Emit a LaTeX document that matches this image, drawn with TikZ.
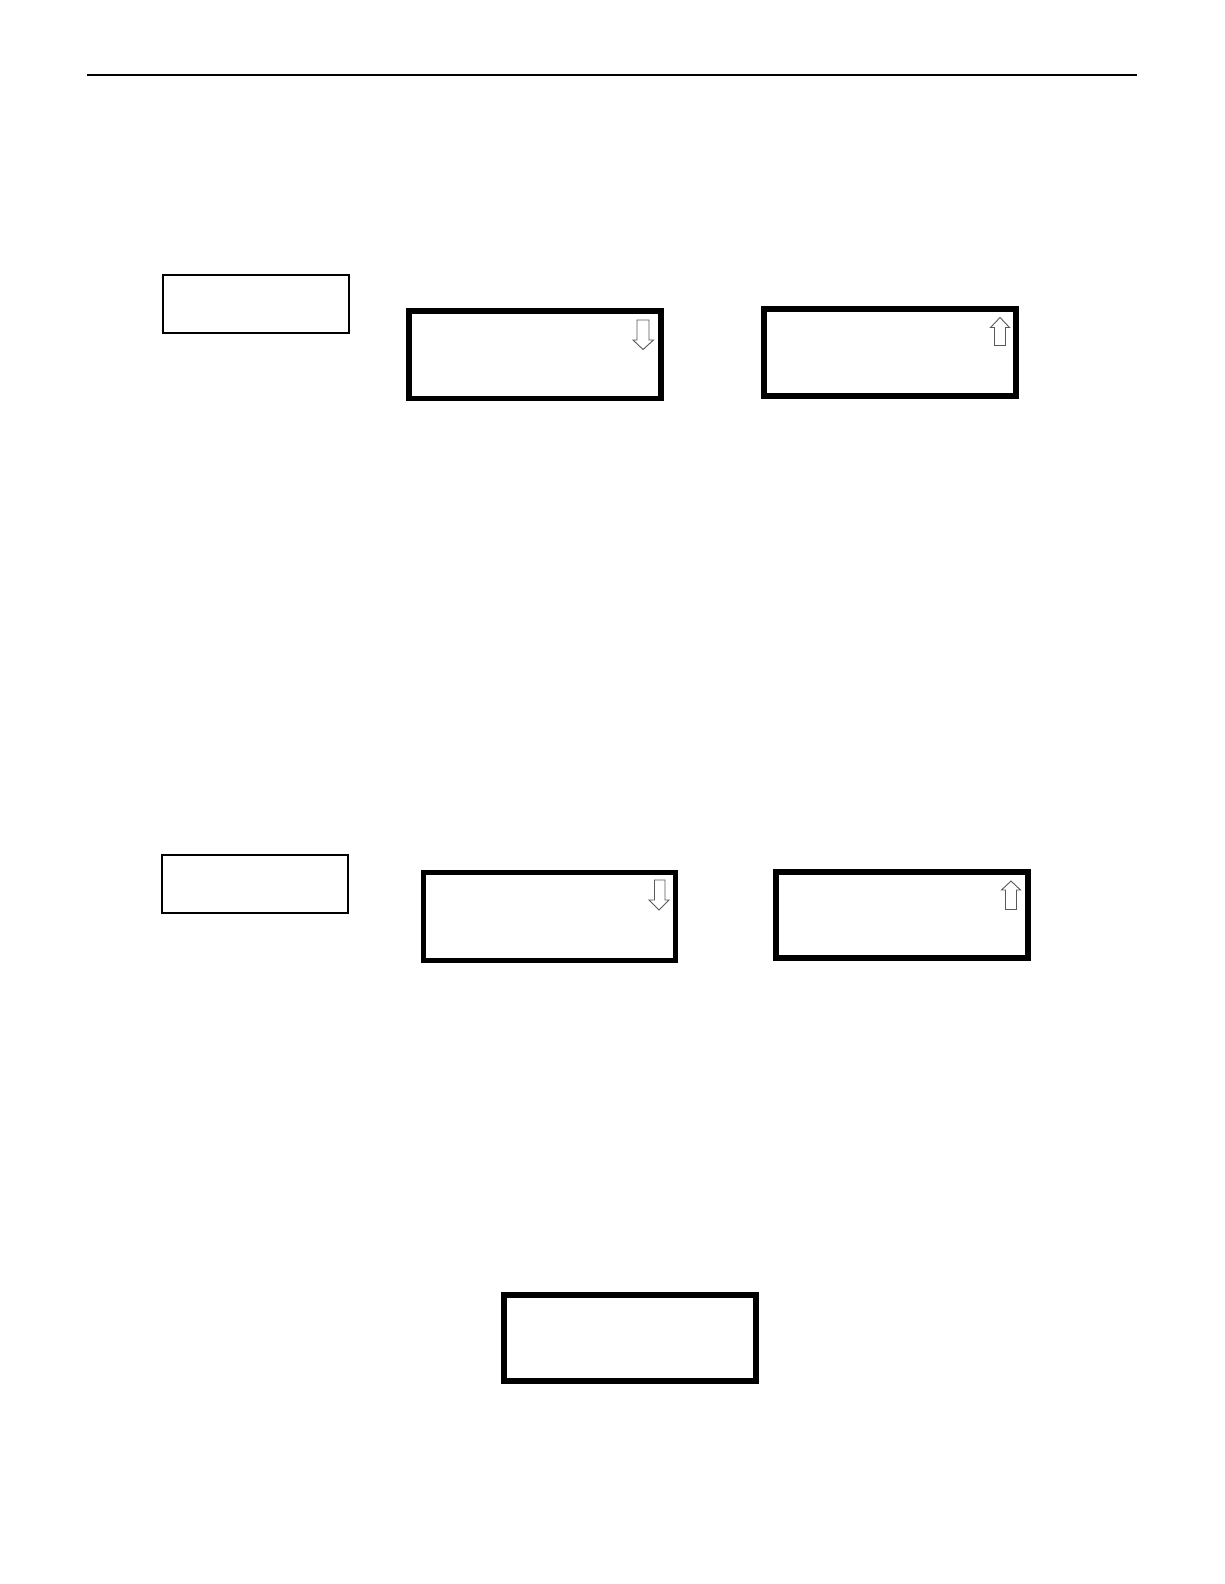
\documentclass[tikz,border=0pt]{standalone}
\begin{document}
\begin{tikzpicture}[x=1pt,y=-1pt,
  thinbox/.style={draw=black,line width=2pt,inner sep=0pt,rectangle},
  thickbox/.style={draw=black,line width=5.8pt,inner sep=0pt,rectangle},
  scrollarrow/.style={draw=black!65,line width=0.9pt,line join=miter,fill=white}]
\useasboundingbox[fill=white] (0,0) rectangle (1224,1584);
% header rule
\coordinate (ruleL) at (87,75);
\coordinate (ruleR) at (1137,75);
\draw[line width=1.5pt] (ruleL) -- (ruleR);
% upper row
\node[thinbox,minimum width=186pt,minimum height=57.5pt] (s1) at (255.5,303.75) {};
\node[thickbox,minimum width=252pt,minimum height=87.5pt] (b1) at (535,354.75) {};
\node[thickbox,minimum width=252pt,minimum height=87pt] (b2) at (890,352.5) {};
% lower row
\node[thinbox,minimum width=186pt,minimum height=58pt] (s2) at (254.5,883.5) {};
\node[thickbox,minimum width=252pt,minimum height=88pt] (b3) at (549.5,916.5) {};
\node[thickbox,minimum width=252pt,minimum height=86pt] (b4) at (902.2,915.2) {};
% bottom
\node[thickbox,minimum width=252pt,minimum height=86pt] (b5) at (630,1338) {};
% scroll arrows
\draw[scrollarrow] (637,320) -- (649,320) -- (649,340) -- (653.5,340) -- (643,349.5) -- (633,340) -- (637,340) -- cycle;
\draw[scrollarrow] (994.5,345.5) -- (1005.5,345.5) -- (1005.5,327.5) -- (1009.5,327.5) -- (1000,317.5) -- (990.5,327.5) -- (994.5,327.5) -- cycle;
\draw[scrollarrow] (654.5,880) -- (665,880) -- (665,900) -- (669,900) -- (659,910) -- (649,900) -- (654.5,900) -- cycle;
\draw[scrollarrow] (1005.5,909.5) -- (1016.5,909.5) -- (1016.5,890) -- (1020.5,890) -- (1011,881) -- (1001.5,890) -- (1005.5,890) -- cycle;
\end{tikzpicture}
\end{document}
